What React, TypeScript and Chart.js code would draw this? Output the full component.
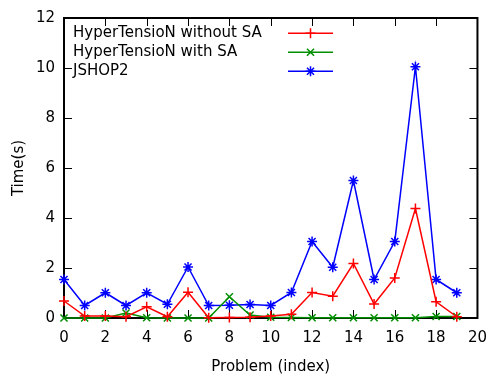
import React, { useEffect, useRef } from "react";
import { Chart, registerables } from "chart.js";

Chart.register(...registerables);

const problems = [0, 1, 2, 3, 4, 5, 6, 7, 8, 9, 10, 11, 12, 13, 14, 15, 16, 17, 18, 19];
const withoutSA = [0.68, 0.08, 0.08, 0.05, 0.45, 0.05, 1.03, 0.01, 0.02, 0.03, 0.08, 0.15, 1.02, 0.87, 2.18, 0.56, 1.6, 4.38, 0.65, 0.05];
const withSA = [0.0, 0.0, 0.0, 0.2, 0.01, 0.0, 0.0, 0.0, 0.85, 0.12, 0.03, 0.02, 0.01, 0.01, 0.01, 0.01, 0.01, 0.01, 0.06, 0.06];
const jshop2 = [1.54, 0.5, 1.01, 0.5, 1.01, 0.55, 2.04, 0.5, 0.51, 0.54, 0.5, 1.02, 3.06, 2.03, 5.5, 1.54, 3.06, 10.05, 1.54, 1.01];
const xTicks = [0, 2, 4, 6, 8, 10, 12, 14, 16, 18, 20];
const yTicks = [0, 2, 4, 6, 8, 10, 12];
const seriesNames = ["HyperTensioN without SA", "HyperTensioN with SA", "JSHOP2"];
const seriesColors = ["#ff0000", "#008f00", "#0000ff"];
const seriesMarkers = ["cross", "crossRot", "star"];

const FONT = "'DejaVu Sans', sans-serif";
const FS = 15;

function drawMarker(ctx: CanvasRenderingContext2D, kind: string, x: number, y: number, r: number) {
  ctx.beginPath();
  if (kind === "cross" || kind === "star") {
    ctx.moveTo(x - r, y); ctx.lineTo(x + r, y);
    ctx.moveTo(x, y - r); ctx.lineTo(x, y + r);
  }
  if (kind === "crossRot" || kind === "star") {
    const d = r * Math.SQRT1_2;
    ctx.moveTo(x - d, y - d); ctx.lineTo(x + d, y + d);
    ctx.moveTo(x - d, y + d); ctx.lineTo(x + d, y - d);
  }
  ctx.stroke();
}

const framePlugin = {
  id: "frame",
  beforeDatasetsDraw(chart: any) {
    const { ctx, chartArea: a, scales } = chart;
    ctx.save();
    ctx.strokeStyle = "#000";
    ctx.lineWidth = 1;
    const tl = 8;
    ctx.beginPath();
    xTicks.forEach((v) => {
      const px = Math.round(scales.x.getPixelForValue(v)) + 0.5;
      ctx.moveTo(px, a.bottom); ctx.lineTo(px, a.bottom - tl);
      ctx.moveTo(px, a.top); ctx.lineTo(px, a.top + tl);
    });
    yTicks.forEach((v) => {
      const py = Math.round(scales.y.getPixelForValue(v)) + 0.5;
      ctx.moveTo(a.left, py); ctx.lineTo(a.left + tl, py);
      ctx.moveTo(a.right, py); ctx.lineTo(a.right - tl, py);
    });
    ctx.stroke();
    ctx.lineWidth = 2;
    ctx.strokeRect(a.left, a.top, a.right - a.left, a.bottom - a.top);
    ctx.restore();
  },
  afterDatasetsDraw(chart: any) {
    const { ctx } = chart;
    ctx.save();
    ctx.font = `${FS}px ${FONT}`;
    ctx.textBaseline = "middle";
    ctx.textAlign = "left";
    const ys = [33, 52, 71];
    seriesNames.forEach((name, i) => {
      ctx.fillStyle = "#000";
      ctx.fillText(name, 73, ys[i]);
      ctx.fillStyle = seriesColors[i];
      ctx.fillRect(288, ys[i] - 0.5, 45, 1.5);
      ctx.strokeStyle = seriesColors[i];
      ctx.lineWidth = 1.5;
      drawMarker(ctx, seriesMarkers[i], 310.5, ys[i] + 0.25, 5);
    });
    ctx.restore();
  },
};

export default function App() {
  const ref = useRef<HTMLCanvasElement | null>(null);
  useEffect(() => {
    document.body.style.margin = "0";
    const canvas = ref.current!;
    const series = [withoutSA, withSA, jshop2];
    const chart = new Chart(canvas, {
      type: "line",
      data: {
        datasets: series.map((vals, i) => ({
          label: seriesNames[i],
          data: problems.map((p, j) => ({ x: p, y: vals[j] })),
          borderColor: seriesColors[i],
          backgroundColor: seriesColors[i],
          borderWidth: 1.5,
          pointStyle: seriesMarkers[i] as any,
          pointRadius: 5,
          pointBorderWidth: 1.5,
          pointBorderColor: seriesColors[i],
          tension: 0,
          clip: false as any,
          fill: false,
        })),
      },
      options: {
        animation: false,
        responsive: false,
        events: [],
        layout: { padding: { top: 15, right: 8, left: 0, bottom: 0 } },
        plugins: { legend: { display: false }, tooltip: { enabled: false }, title: { display: false } },
        scales: {
          x: {
            type: "linear",
            min: 0,
            max: 20,
            grid: { display: false, drawTicks: false },
            border: { display: false },
            afterBuildTicks: (s: any) => { s.ticks = xTicks.map((v) => ({ value: v })); },
            afterFit: (s: any) => { s.height = 58; },
            ticks: { color: "#000", font: { family: FONT, size: FS }, padding: 11, maxRotation: 0, autoSkip: false },
            title: { display: true, text: "Problem (index)", color: "#000", font: { family: FONT, size: FS }, padding: { top: 0, bottom: 0 } },
          },
          y: {
            type: "linear",
            min: 0,
            max: 12,
            grid: { display: false, drawTicks: false },
            border: { display: false },
            afterBuildTicks: (s: any) => { s.ticks = yTicks.map((v) => ({ value: v })); },
            afterFit: (s: any) => { s.width = 64; },
            ticks: { color: "#000", font: { family: FONT, size: FS }, padding: 9, autoSkip: false },
            title: { display: true, text: "Time(s)", color: "#000", font: { family: FONT, size: FS }, padding: { top: 10, bottom: 0 } },
          },
        },
      },
      plugins: [framePlugin],
    });
    return () => chart.destroy();
  }, []);
  return <canvas ref={ref} width={498} height={376} style={{ display: "block", width: 498, height: 376 }} />;
}
